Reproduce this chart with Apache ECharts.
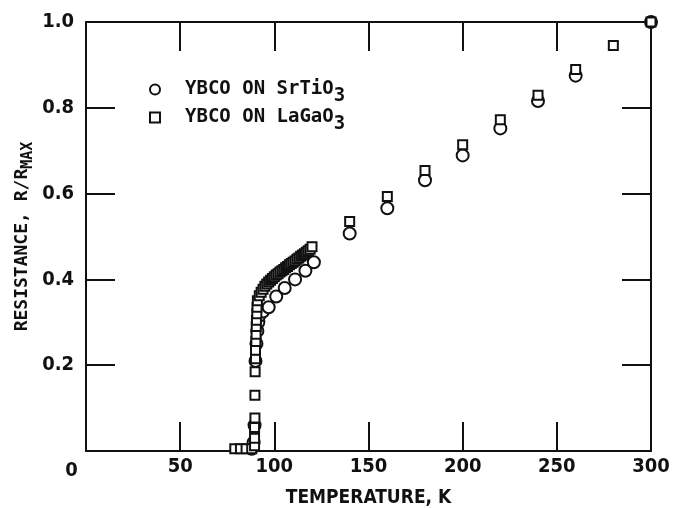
<!DOCTYPE html>
<html>
<head>
<meta charset="utf-8">
<script src="https://cdn.jsdelivr.net/npm/echarts@6/dist/echarts.min.js"></script>
<style>
  html, body { margin: 0; padding: 0; background: #fff; }
  #chart { width: 680px; height: 508px; }
</style>
</head>
<body>
<div id="chart"></div>
<script>
// Normalised resistance R/Rmax versus temperature for two YBCO films.
const seriesNames = ['YBCO ON SrTiO3', 'YBCO ON LaGaO3'];

// YBCO on SrTiO3 (circles)
const srTiO3Temp = [88, 89, 89.5, 90, 90.5, 91, 91.5, 92, 94, 97, 101, 105.5, 111, 116.5, 121,
                    140, 160, 180, 200, 220, 240, 260, 300];
const srTiO3Res  = [0.005, 0.02, 0.06, 0.21, 0.25, 0.28, 0.30, 0.315, 0.325, 0.335, 0.36, 0.38, 0.40, 0.42, 0.44,
                    0.507, 0.566, 0.631, 0.689, 0.752, 0.816, 0.875, 1.0];

// YBCO on LaGaO3 (squares)
const laGaO3Temp = [79, 82, 85, 88,
                    89.5, 89.5, 89.5, 89.7, 89.7, 89.8, 90, 90, 90.2, 90.3, 90.4, 90.5, 90.7, 90.8, 91,
                    92, 93, 94, 95, 96, 97, 98, 99, 100, 101, 102, 103, 104, 105, 106, 107, 108, 109,
                    110, 111, 112, 113, 114, 115, 116, 117, 118, 119, 120,
                    140, 160, 180, 200, 220, 240, 260, 280, 300];
const laGaO3Res  = [0.005, 0.005, 0.005, 0.005,
                    0.012, 0.03, 0.055, 0.077, 0.13, 0.185, 0.215, 0.235, 0.255, 0.272, 0.29, 0.305, 0.32, 0.335, 0.35,
                    0.362, 0.37, 0.377, 0.384, 0.389, 0.394, 0.398, 0.402, 0.406, 0.41, 0.413, 0.417, 0.42, 0.423, 0.427, 0.43, 0.434, 0.437,
                    0.44, 0.443, 0.447, 0.45, 0.454, 0.457, 0.46, 0.463, 0.467, 0.47, 0.476,
                    0.535, 0.593, 0.654, 0.714, 0.772, 0.829, 0.889, 0.945, 1.0];

const xTicks = [0, 50, 100, 150, 200, 250, 300];
const yTicks = [0.2, 0.4, 0.6, 0.8, 1.0];

const pairs = (xs, ys) => xs.map((x, i) => [x, ys[i]]);

const INK = '#111';
const tickFont = "'DejaVu Sans Condensed', 'DejaVu Sans', sans-serif";
const monoFont = "'DejaVu Sans Mono', monospace";

const frameLine = { show: true, onZero: false, lineStyle: { color: INK, width: 2 } };
const innerTick = { show: true, inside: true, length: 29, lineStyle: { color: INK, width: 2 } };

const chart = echarts.init(document.getElementById('chart'), null, { renderer: 'canvas' });

chart.setOption({
  backgroundColor: '#fff',
  animation: false,
  grid: { left: 86, right: 29, top: 22, bottom: 57, containLabel: false, outerBoundsMode: 'none' },
  legend: {
    orient: 'vertical',
    left: 144,
    top: 75,
    itemWidth: 50,
    itemHeight: 10,
    itemGap: 2,
    selectedMode: false,
    data: [
      { name: seriesNames[0], icon: 'path://M5,0A5,5,0,1,1,5,10A5,5,0,1,1,5,0Z' },
      { name: seriesNames[1], icon: 'path://M0,0L10,0L10,10L0,10Z' }
    ],
    formatter: name => name.replace(/3$/, '{sub|3}'),
    textStyle: {
      fontFamily: monoFont, fontSize: 19, fontWeight: 'bold', color: INK,
      rich: { sub: { fontFamily: monoFont, fontSize: 19, fontWeight: 'bold', color: INK, padding: [14, 0, 0, 0] } }
    }
  },
  xAxis: [
    {
      type: 'value', position: 'bottom', min: 0, max: 300, interval: 50,
      name: 'TEMPERATURE, K', nameLocation: 'middle', nameGap: 38, nameMoveOverlap: false,
      nameTextStyle: { fontFamily: tickFont, fontSize: 19, fontWeight: 'bold', color: INK },
      axisLine: frameLine, axisTick: innerTick, splitLine: { show: false },
      axisLabel: {
        margin: 6, fontFamily: tickFont, fontSize: 20, fontWeight: 'bold', color: INK,
        formatter: v => (v === 0 ? '{z|0}' : String(v)),
        rich: { z: { fontFamily: tickFont, fontSize: 20, fontWeight: 'bold', color: INK, padding: [4, 29, 0, 0] } }
      }
    },
    {
      type: 'value', position: 'top', min: 0, max: 300, interval: 50,
      axisLine: frameLine, axisTick: innerTick, axisLabel: { show: false }, splitLine: { show: false }
    }
  ],
  yAxis: [
    {
      type: 'value', position: 'left', min: 0, max: 1, interval: 0.2,
      name: 'RESISTANCE, R/R{sub|MAX}', nameLocation: 'middle', nameGap: 50, nameMoveOverlap: false,
      nameTextStyle: {
        fontFamily: monoFont, fontSize: 18, fontWeight: 'bold', color: INK,
        rich: { sub: { fontFamily: monoFont, fontSize: 15, fontWeight: 'bold', color: INK, padding: [12, 0, 0, 0] } }
      },
      axisLine: frameLine, axisTick: innerTick, splitLine: { show: false },
      axisLabel: {
        margin: 12, fontFamily: tickFont, fontSize: 20, fontWeight: 'bold', color: INK,
        formatter: v => (yTicks.some(t => Math.abs(t - v) < 1e-9) ? v.toFixed(1) : '')
      }
    },
    {
      type: 'value', position: 'right', min: 0, max: 1, interval: 0.2,
      axisLine: frameLine, axisTick: innerTick, axisLabel: { show: false }, splitLine: { show: false }
    }
  ],
  series: [
    {
      name: seriesNames[0], type: 'scatter', symbol: 'circle', symbolSize: 12,
      itemStyle: { color: '#fff', borderColor: INK, borderWidth: 2, opacity: 1 },
      data: pairs(srTiO3Temp, srTiO3Res), z: 3
    },
    {
      name: seriesNames[1], type: 'scatter', symbol: 'rect', symbolSize: 9,
      itemStyle: { color: '#fff', borderColor: INK, borderWidth: 2, opacity: 1 },
      data: pairs(laGaO3Temp, laGaO3Res), z: 4
    }
  ]
});
</script>
</body>
</html>
